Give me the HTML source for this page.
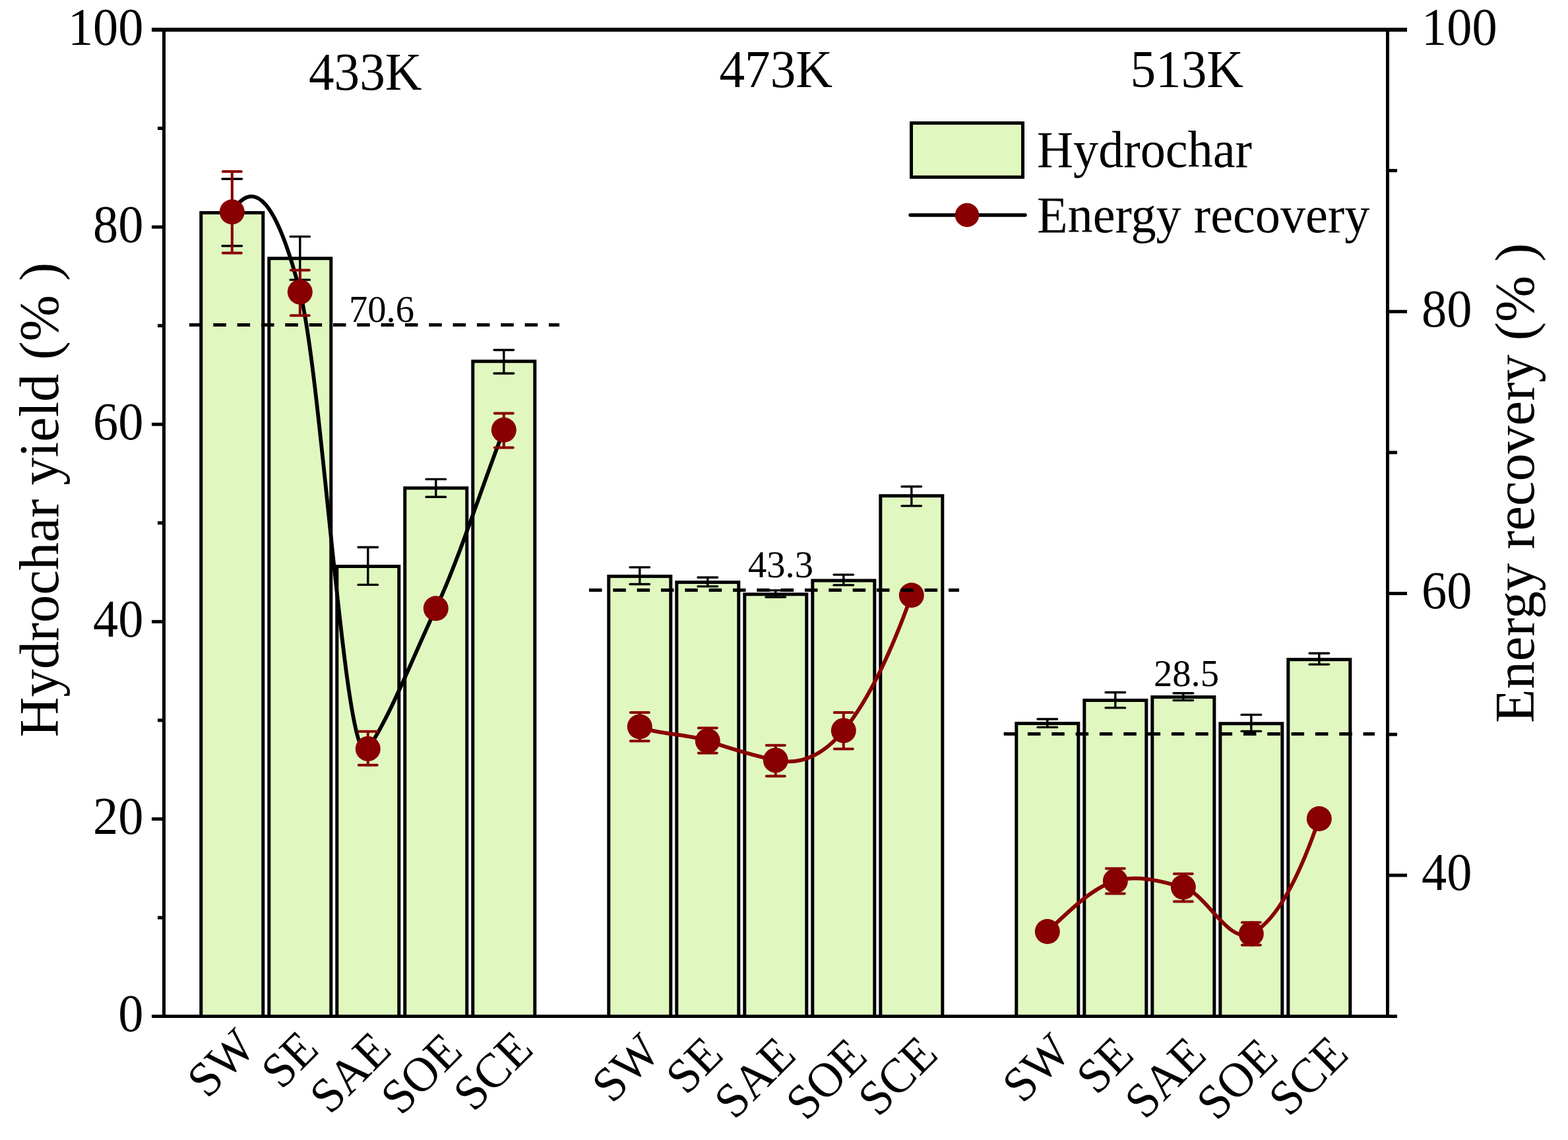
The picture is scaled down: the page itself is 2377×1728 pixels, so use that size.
<!DOCTYPE html><html><head><meta charset="utf-8"><title>Hydrochar yield and energy recovery</title>
<style>html,body{margin:0;padding:0;background:#fff;}svg{display:block;}</style></head><body>
<svg width="2377" height="1728" viewBox="0 0 2377 1728">
<rect x="0" y="0" width="2377" height="1728" fill="#fff"/>
<g fill="#E0F8C0" stroke="#000" stroke-width="5" stroke-linejoin="miter">
<rect x="304.8" y="322.5" width="94.0" height="1218.0"/>
<rect x="407.8" y="391.7" width="94.0" height="1148.8"/>
<rect x="510.8" y="858.5" width="94.0" height="682.0"/>
<rect x="613.8" y="739.8" width="94.0" height="800.7"/>
<rect x="716.8" y="547.7" width="94.0" height="992.8"/>
<rect x="922.8" y="873.6" width="94.0" height="666.9"/>
<rect x="1025.8" y="882.6" width="94.0" height="657.9"/>
<rect x="1128.8" y="900.8" width="94.0" height="639.7"/>
<rect x="1231.8" y="880.0" width="94.0" height="660.5"/>
<rect x="1334.8" y="751.6" width="94.0" height="788.9"/>
<rect x="1540.8" y="1096.6" width="94.0" height="443.9"/>
<rect x="1643.8" y="1061.5" width="94.0" height="479.0"/>
<rect x="1746.8" y="1056.6" width="94.0" height="483.9"/>
<rect x="1849.8" y="1096.8" width="94.0" height="443.7"/>
<rect x="1952.8" y="999.7" width="94.0" height="540.8"/>
</g>
<g stroke="#000" stroke-width="3.4" stroke-linecap="round" fill="none">
<path d="M351.8 271.3V372.7M337.0 271.3H366.6M337.0 372.7H366.6"/>
<path d="M454.8 358.6V424.1M440.0 358.6H469.6M440.0 424.1H469.6"/>
<path d="M557.8 829.5V886.4M543.0 829.5H572.6M543.0 886.4H572.6"/>
<path d="M660.8 726.4V753.3M646.0 726.4H675.6M646.0 753.3H675.6"/>
<path d="M763.8 530.5V566.0M749.0 530.5H778.6M749.0 566.0H778.6"/>
<path d="M969.8 859.9V885.5M955.0 859.9H984.6M955.0 885.5H984.6"/>
<path d="M1072.8 875.3V888.9M1058.0 875.3H1087.6M1058.0 888.9H1087.6"/>
<path d="M1175.8 894.9V905.0M1161.0 894.9H1190.6M1161.0 905.0H1190.6"/>
<path d="M1278.8 871.1V886.9M1264.0 871.1H1293.6M1264.0 886.9H1293.6"/>
<path d="M1381.8 737.5V766.9M1367.0 737.5H1396.6M1367.0 766.9H1396.6"/>
<path d="M1587.8 1090.0V1102.4M1573.0 1090.0H1602.6M1573.0 1102.4H1602.6"/>
<path d="M1690.8 1049.5V1072.9M1676.0 1049.5H1705.6M1676.0 1072.9H1705.6"/>
<path d="M1793.8 1050.8V1061.6M1779.0 1050.8H1808.6M1779.0 1061.6H1808.6"/>
<path d="M1896.8 1083.4V1108.4M1882.0 1083.4H1911.6M1882.0 1108.4H1911.6"/>
<path d="M1999.8 990.3V1007.1M1985.0 990.3H2014.6M1985.0 1007.1H2014.6"/>
</g>
<path d="M351.80 321.20 C386.13 265.99 420.47 308.70 454.80 442.60 C489.13 576.50 523.47 1185.03 557.80 1134.90 C592.13 1084.77 626.47 995.02 660.80 922.30 C695.13 849.58 729.47 740.28 763.80 651.70" fill="none" stroke="#000" stroke-width="5.8" stroke-linejoin="round"/>
<path d="M969.80 1101.50 C1004.13 1114.89 1038.47 1111.40 1072.80 1123.00 C1107.13 1134.60 1141.47 1145.22 1175.80 1152.40 C1210.13 1159.58 1244.47 1149.08 1278.80 1107.40 C1313.13 1065.72 1347.47 998.64 1381.80 902.30" fill="none" stroke="#880000" stroke-width="5.8" stroke-linejoin="round"/>
<path d="M1587.80 1412.00 C1622.13 1379.66 1656.47 1345.25 1690.80 1335.40 C1725.13 1325.55 1759.47 1335.70 1793.80 1344.80 C1828.13 1353.90 1862.47 1432.02 1896.80 1415.40 C1931.13 1398.78 1965.47 1341.32 1999.80 1241.00" fill="none" stroke="#880000" stroke-width="5.8" stroke-linejoin="round"/>
<g stroke="#880000" stroke-width="4" stroke-linecap="round" fill="none">
<path d="M351.8 260.0V383.5M337.8 260.0H365.8M337.8 383.5H365.8"/>
<path d="M454.8 409.4V478.2M440.8 409.4H468.8M440.8 478.2H468.8"/>
<path d="M557.8 1108.7V1159.8M543.8 1108.7H571.8M543.8 1159.8H571.8"/>
<path d="M763.8 626.4V678.6M749.8 626.4H777.8M749.8 678.6H777.8"/>
<path d="M969.8 1080.1V1123.2M955.8 1080.1H983.8M955.8 1123.2H983.8"/>
<path d="M1072.8 1103.4V1141.5M1058.8 1103.4H1086.8M1058.8 1141.5H1086.8"/>
<path d="M1175.8 1129.8V1176.4M1161.8 1129.8H1189.8M1161.8 1176.4H1189.8"/>
<path d="M1278.8 1079.9V1135.3M1264.8 1079.9H1292.8M1264.8 1135.3H1292.8"/>
<path d="M1690.8 1316.4V1354.5M1676.8 1316.4H1704.8M1676.8 1354.5H1704.8"/>
<path d="M1793.8 1324.4V1366.4M1779.8 1324.4H1807.8M1779.8 1366.4H1807.8"/>
<path d="M1896.8 1398.2V1432.6M1882.8 1398.2H1910.8M1882.8 1432.6H1910.8"/>
</g>
<g fill="#880000">
<circle cx="351.8" cy="321.2" r="19"/>
<circle cx="454.8" cy="442.6" r="19"/>
<circle cx="557.8" cy="1134.9" r="19"/>
<circle cx="660.8" cy="922.3" r="19"/>
<circle cx="763.8" cy="651.7" r="19"/>
<circle cx="969.8" cy="1101.5" r="19"/>
<circle cx="1072.8" cy="1123.0" r="19"/>
<circle cx="1175.8" cy="1152.4" r="19"/>
<circle cx="1278.8" cy="1107.4" r="19"/>
<circle cx="1381.8" cy="902.3" r="19"/>
<circle cx="1587.8" cy="1412.0" r="19"/>
<circle cx="1690.8" cy="1335.4" r="19"/>
<circle cx="1793.8" cy="1344.8" r="19"/>
<circle cx="1896.8" cy="1415.4" r="19"/>
<circle cx="1999.8" cy="1241.0" r="19"/>
</g>
<g stroke="#000" stroke-width="5" stroke-dasharray="19.5 16.83" fill="none">
<path d="M287.0 492.5H848.0"/>
<path d="M893.0 894.5H1454.0"/>
<path d="M1521.6 1112.4H2084.0"/>
</g>
<g fill="#000">
<rect x="230" y="42" width="1903" height="6"/>
<rect x="246" y="42" width="5" height="1501"/>
<rect x="2101" y="42" width="5" height="1501"/>
<rect x="230" y="1538" width="1888" height="5"/>
<rect x="230" y="1538.0" width="18" height="5"/>
<rect x="239" y="1388.5" width="9" height="5"/>
<rect x="230" y="1238.9" width="18" height="5"/>
<rect x="239" y="1089.3" width="9" height="5"/>
<rect x="230" y="939.8" width="18" height="5"/>
<rect x="239" y="790.2" width="9" height="5"/>
<rect x="230" y="640.7" width="18" height="5"/>
<rect x="239" y="491.2" width="9" height="5"/>
<rect x="230" y="341.6" width="18" height="5"/>
<rect x="239" y="192.0" width="9" height="5"/>
<rect x="230" y="42.5" width="18" height="5"/>
<rect x="2104" y="1538.0" width="14" height="5"/>
<rect x="2104" y="1324.3" width="29" height="5"/>
<rect x="2104" y="1110.7" width="14" height="5"/>
<rect x="2104" y="897.1" width="29" height="5"/>
<rect x="2104" y="683.4" width="14" height="5"/>
<rect x="2104" y="469.8" width="29" height="5"/>
<rect x="2104" y="256.1" width="14" height="5"/>
<rect x="2104" y="42.5" width="29" height="5"/>
</g>
<g font-family="'Liberation Serif','Times New Roman',serif" fill="#000">
<text transform="translate(217.5 1563.1) scale(0.955 1)" font-size="80" text-anchor="end">0</text>
<text transform="translate(217.5 1264.0) scale(0.955 1)" font-size="80" text-anchor="end">20</text>
<text transform="translate(217.5 964.9) scale(0.955 1)" font-size="80" text-anchor="end">40</text>
<text transform="translate(217.5 665.8) scale(0.955 1)" font-size="80" text-anchor="end">60</text>
<text transform="translate(217.5 366.7) scale(0.955 1)" font-size="80" text-anchor="end">80</text>
<text transform="translate(217.5 67.6) scale(0.955 1)" font-size="80" text-anchor="end">100</text>
<text transform="translate(2155.0 1349.4) scale(0.955 1)" font-size="80" text-anchor="start">40</text>
<text transform="translate(2155.0 922.2) scale(0.955 1)" font-size="80" text-anchor="start">60</text>
<text transform="translate(2155.0 494.9) scale(0.955 1)" font-size="80" text-anchor="start">80</text>
<text transform="translate(2155.0 67.6) scale(0.955 1)" font-size="80" text-anchor="start">100</text>
<text transform="translate(468.0 135.7) scale(0.965 1)" font-size="80" text-anchor="start">433K</text>
<text transform="translate(1090.5 131.7) scale(0.965 1)" font-size="80" text-anchor="start">473K</text>
<text transform="translate(1713.5 131.7) scale(0.965 1)" font-size="80" text-anchor="start">513K</text>
<text transform="translate(529.0 487.8) scale(0.975 1)" font-size="58" text-anchor="start">70.6</text>
<text transform="translate(1134.0 875.0) scale(0.975 1)" font-size="58" text-anchor="start">43.3</text>
<text transform="translate(1749.0 1040.0) scale(0.975 1)" font-size="58" text-anchor="start">28.5</text>
<text transform="translate(1572.0 253.3) scale(0.965 1)" font-size="79" text-anchor="start">Hydrochar</text>
<text transform="translate(1572.0 352.1) scale(0.965 1)" font-size="79" text-anchor="start">Energy recovery</text>
<text transform="translate(88.0 1117.5) rotate(-90) scale(1.005 1)" font-size="84" text-anchor="start">Hydrochar yield (% )</text>
<text transform="translate(2325.0 1096.0) rotate(-90) scale(1.005 1)" font-size="84" text-anchor="start">Energy recovery (% )</text>
<text transform="translate(390.8 1590.6) rotate(-45) scale(0.965 1)" font-size="74.5" text-anchor="end">SW</text>
<text transform="translate(486.0 1593.7) rotate(-45) scale(0.965 1)" font-size="74.5" text-anchor="end">SE</text>
<text transform="translate(596.2 1594.9) rotate(-45) scale(0.965 1)" font-size="74.5" text-anchor="end">SAE</text>
<text transform="translate(704.1 1596.6) rotate(-45) scale(0.965 1)" font-size="74.5" text-anchor="end">SOE</text>
<text transform="translate(811.2 1593.8) rotate(-45) scale(0.965 1)" font-size="74.5" text-anchor="end">SCE</text>
<text transform="translate(1004.2 1597.9) rotate(-45) scale(0.965 1)" font-size="74.5" text-anchor="end">SW</text>
<text transform="translate(1099.6 1602.1) rotate(-45) scale(0.965 1)" font-size="74.5" text-anchor="end">SE</text>
<text transform="translate(1209.5 1602.7) rotate(-45) scale(0.965 1)" font-size="74.5" text-anchor="end">SAE</text>
<text transform="translate(1317.9 1604.8) rotate(-45) scale(0.965 1)" font-size="74.5" text-anchor="end">SOE</text>
<text transform="translate(1424.7 1601.5) rotate(-45) scale(0.965 1)" font-size="74.5" text-anchor="end">SCE</text>
<text transform="translate(1626.4 1597.9) rotate(-45) scale(0.965 1)" font-size="74.5" text-anchor="end">SW</text>
<text transform="translate(1721.9 1602.1) rotate(-45) scale(0.965 1)" font-size="74.5" text-anchor="end">SE</text>
<text transform="translate(1831.8 1602.7) rotate(-45) scale(0.965 1)" font-size="74.5" text-anchor="end">SAE</text>
<text transform="translate(1940.4 1604.8) rotate(-45) scale(0.965 1)" font-size="74.5" text-anchor="end">SOE</text>
<text transform="translate(2047.2 1601.3) rotate(-45) scale(0.965 1)" font-size="74.5" text-anchor="end">SCE</text>
</g>
<rect x="1381.5" y="186.5" width="169" height="82" fill="#E0F8C0" stroke="#000" stroke-width="5"/>
<path d="M1380 326H1554" stroke="#000" stroke-width="5.5" stroke-linecap="round"/>
<circle cx="1466" cy="326" r="18.2" fill="#880000"/>
</svg></body></html>
